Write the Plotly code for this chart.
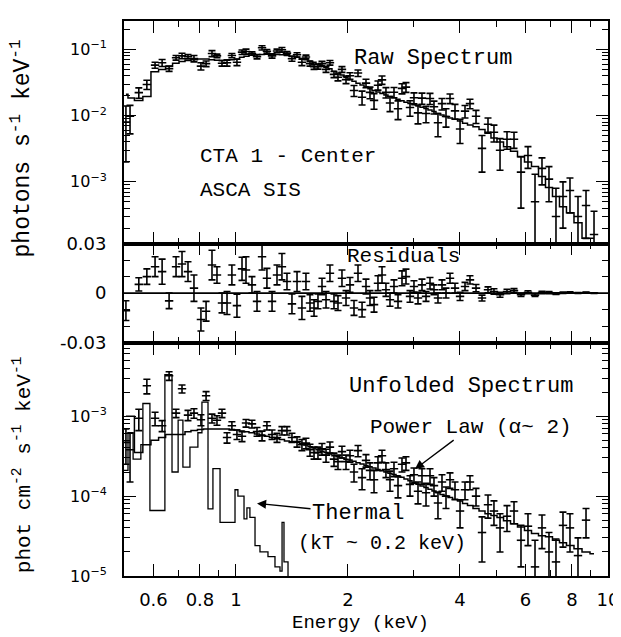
import plotly.graph_objects as go
from plotly.subplots import make_subplots

# ---------------- data ----------------
energy = [0.506, 0.519, 0.548, 0.576, 0.606, 0.633, 0.661, 0.690, 0.716, 0.743,
          0.771, 0.805, 0.831, 0.862, 0.889, 0.917, 0.946, 0.975, 1.006, 1.038,
          1.064, 1.104, 1.139, 1.175, 1.211, 1.250, 1.289, 1.329, 1.371, 1.414,
          1.459, 1.504, 1.542, 1.581, 1.621, 1.661, 1.703, 1.746, 1.789, 1.834,
          1.880, 1.927, 1.976, 2.025, 2.076, 2.128, 2.182, 2.236, 2.292, 2.350,
          2.408, 2.469, 2.530, 2.594, 2.659, 2.726, 2.794, 2.864, 2.936, 3.009,
          3.085, 3.162, 3.242, 3.323, 3.406, 3.491, 3.579, 3.669, 3.761, 3.879,
          4.002, 4.127, 4.256, 4.418, 4.585, 4.758, 4.937, 5.126, 5.352, 5.589,
          5.836, 6.094, 6.365, 6.646, 6.940, 7.247, 7.568, 7.903, 8.305, 8.728,
          9.171]

raw_rate = [0.0080, 0.0098, 0.0223, 0.0295, 0.0580, 0.0630, 0.0513, 0.0750, 0.0800, 0.0780,
            0.0730, 0.0560, 0.0610, 0.0870, 0.0800, 0.0620, 0.0630, 0.0810, 0.0640, 0.0910,
            0.0930, 0.0870, 0.0780, 0.1060, 0.0940, 0.0800, 0.0950, 0.0990, 0.0880, 0.0725,
            0.0830, 0.0640, 0.0770, 0.0610, 0.0550, 0.0550, 0.0610, 0.0500, 0.0630, 0.0420,
            0.0380, 0.0500, 0.0350, 0.0400, 0.0240, 0.0440, 0.0190, 0.0310, 0.0225, 0.0170,
            0.0288, 0.0347, 0.0225, 0.0155, 0.0226, 0.0127, 0.0258, 0.0270, 0.0133, 0.0186,
            0.0110, 0.0184, 0.0108, 0.0182, 0.0136, 0.0078, 0.0152, 0.0097, 0.0182, 0.0118,
            0.0063, 0.0117, 0.0152, 0.0098, 0.0032, 0.0074, 0.0056, 0.0030, 0.0044, 0.0044,
            0.0014, 0.0025, 0.0005, 0.0016, 0.0011, 0.0003, 0.0006, 0.00074, 0.0003, 0.00044,
            0.00016]

rate_err = [0.0060, 0.0045, 0.0040, 0.0047, 0.0060, 0.0076, 0.0047, 0.0060, 0.0076, 0.0060,
            0.0080, 0.0070, 0.0060, 0.0090, 0.0050, 0.0060, 0.0070, 0.0060, 0.0070, 0.0070,
            0.0080, 0.0050, 0.0060, 0.0080, 0.0060, 0.0060, 0.0060, 0.0080, 0.0050, 0.0060,
            0.0060, 0.0070, 0.0050, 0.0050, 0.0050, 0.0045, 0.0050, 0.0050, 0.0050, 0.0045,
            0.0045, 0.0050, 0.0045, 0.0045, 0.0045, 0.0050, 0.0045, 0.0045, 0.0045, 0.0045,
            0.0045, 0.0050, 0.0040, 0.0040, 0.0040, 0.0040, 0.0045, 0.0045, 0.0035, 0.0035,
            0.0035, 0.0035, 0.0030, 0.0035, 0.0030, 0.0030, 0.0030, 0.0030, 0.0030, 0.0030,
            0.0025, 0.0025, 0.0025, 0.0022, 0.0018, 0.0018, 0.0016, 0.0015, 0.0013, 0.0012,
            0.0010, 0.0009, 0.0008, 0.0007, 0.0006, 0.0005, 0.0004, 0.0004, 0.0003, 0.0003,
            0.0002]

raw_model = [0.0210, 0.0185, 0.0170, 0.0195, 0.0460, 0.0500, 0.0560, 0.0620, 0.0660, 0.0680,
             0.0700, 0.0720, 0.0720, 0.0700, 0.0690, 0.0680, 0.0690, 0.0700, 0.0720, 0.0760,
             0.0790, 0.0820, 0.0830, 0.0840, 0.0850, 0.0850, 0.0840, 0.0830, 0.0810, 0.0790,
             0.0760, 0.0730, 0.0700, 0.0670, 0.0640, 0.0600, 0.0570, 0.0540, 0.0510, 0.0470,
             0.0440, 0.0410, 0.0380, 0.0350, 0.0330, 0.0310, 0.0290, 0.0270, 0.0255, 0.0240,
             0.0228, 0.0217, 0.0205, 0.0195, 0.0186, 0.0177, 0.0168, 0.0160, 0.0153, 0.0146,
             0.0140, 0.0134, 0.0128, 0.0122, 0.0116, 0.0108, 0.0102, 0.0097, 0.0092, 0.0088,
             0.0083, 0.0077, 0.0072, 0.0068, 0.0062, 0.0054, 0.0046, 0.0040, 0.0034, 0.0029,
             0.0024, 0.0020, 0.0017, 0.0012, 0.00082, 0.00060, 0.00042, 0.00034, 0.00024, 0.00014,
             0.00014]

residual = [-0.0106, None, 0.0053, 0.010, 0.016, 0.013, -0.0047, 0.016, 0.0176, 0.013,
            0.003, -0.016, -0.011, 0.017, 0.011, -0.006, -0.006, 0.011, -0.0076, 0.0147,
            0.014, 0.005, -0.005, 0.022, 0.009, -0.005, 0.011, 0.016, 0.007, -0.0065,
            0.007, -0.009, 0.007, -0.006, -0.009, -0.005, 0.004, -0.004, 0.012, -0.005,
            -0.006, 0.009, -0.003, 0.005, -0.009, 0.012, -0.010, 0.004, -0.003, -0.007,
            0.006, 0.011, 0.002, -0.004, 0.004, -0.005, 0.009, 0.010, -0.002, 0.004,
            -0.003, 0.005, -0.002, 0.006, 0.002, -0.003, 0.005, 0.0, 0.009, 0.003,
            -0.002, 0.004, 0.008, 0.003, -0.003, 0.002, 0.001, -0.001, 0.001, 0.0015,
            -0.001, 0.0005, -0.0012, 0.0004, 0.0003, -0.0003, 0.0002, 0.0004, 0.0001, 0.0003,
            0.00002]

unf_flux = [4.7e-4, 3.8e-4, 9.4e-4, 2.4e-3, 9.4e-4, 7.6e-4, 3.2e-3, 1.09e-3, 2.2e-3, 1.03e-3,
            1.09e-3, 9.0e-4, 1.8e-3, 9.4e-4, 8.9e-4, 1.09e-3, 5.4e-4, 7.6e-4, 5.9e-4, 5.6e-4,
            8.2e-4, 8.0e-4, 6.4e-4, 5.7e-4, 7.6e-4, 5.9e-4, 5.4e-4, 6.6e-4, 6.6e-4, 5.4e-4,
            4.8e-4, 4.4e-4, 4.6e-4, 3.8e-4, 3.5e-4, 3.5e-4, 3.9e-4, 3.25e-4, 4.1e-4, 2.9e-4,
            2.7e-4, 3.6e-4, 2.7e-4, 3.2e-4, 2.0e-4, 3.7e-4, 1.7e-4, 2.8e-4, 2.1e-4, 1.6e-4,
            2.6e-4, 3.2e-4, 2.15e-4, 1.6e-4, 2.2e-4, 1.35e-4, 2.5e-4, 2.6e-4, 1.4e-4, 1.85e-4,
            1.15e-4, 1.8e-4, 1.1e-4, 1.8e-4, 1.35e-4, 8.2e-5, 1.5e-4, 1.0e-4, 1.6e-4, 1.2e-4,
            6.5e-5, 1.2e-4, 1.5e-4, 1.0e-4, 3.5e-5, 7.8e-5, 6.5e-5, 4.0e-5, 5.6e-5, 6.5e-5,
            2.8e-5, 4.2e-5, 1.3e-5, 4.0e-5, 2.0e-5, 1.5e-5, 4.3e-5, 4.0e-5, 1.8e-5, 5.0e-5,
            None]

unf_err = [2.2e-4, 2.3e-4, 2.8e-4, 5e-4, 1.8e-4, 1.2e-4, 4e-4, 1.3e-4, 2.5e-4, 1.5e-4,
           1.5e-4, 1.4e-4, 2.3e-4, 1.2e-4, 1.2e-4, 1.3e-4, 8e-5, 9e-5, 8e-5, 8e-5,
           9e-5, 9e-5, 8e-5, 8e-5, 9e-5, 8e-5, 7e-5, 8e-5, 8e-5, 7e-5,
           7e-5, 7e-5, 7e-5, 6.5e-5, 6e-5, 6e-5, 6.5e-5, 6e-5, 6.5e-5, 5.5e-5,
           5.5e-5, 6e-5, 5.5e-5, 5.5e-5, 5e-5, 6e-5, 5e-5, 5e-5, 5e-5, 5e-5,
           5e-5, 5.5e-5, 4.5e-5, 4.5e-5, 4.5e-5, 4e-5, 5e-5, 5e-5, 4e-5, 4e-5,
           3.5e-5, 4e-5, 3.5e-5, 4e-5, 3.5e-5, 3e-5, 3.5e-5, 3e-5, 3.5e-5, 3e-5,
           2.5e-5, 3e-5, 3e-5, 2.5e-5, 2e-5, 2.5e-5, 2.2e-5, 2e-5, 2e-5, 2e-5,
           1.5e-5, 1.8e-5, 1.5e-5, 1.8e-5, 1.5e-5, 1.4e-5, 2e-5, 2e-5, 1.2e-5, 2e-5,
           None]

powerlaw_model = [1.0e-3, 1.0e-3, 3.5e-4, 4.4e-4, 5.0e-4, 5.4e-4, 5.9e-4, 5.9e-4, 5.9e-4, 6.4e-4,
                  6.6e-4, 6.8e-4, 6.9e-4, 6.9e-4, 6.9e-4, 6.9e-4, 6.9e-4, 6.8e-4, 6.7e-4, 6.5e-4,
                  6.4e-4, 6.2e-4, 6.0e-4, 5.8e-4, 5.6e-4, 5.4e-4, 5.2e-4, 5.1e-4, 4.9e-4, 4.8e-4,
                  4.7e-4, 4.55e-4, 4.35e-4, 4.15e-4, 4.0e-4, 3.8e-4, 3.65e-4, 3.5e-4, 3.35e-4, 3.2e-4,
                  3.1e-4, 3.0e-4, 2.9e-4, 2.83e-4, 2.72e-4, 2.62e-4, 2.52e-4, 2.42e-4, 2.33e-4, 2.24e-4,
                  2.15e-4, 2.07e-4, 2.0e-4, 1.93e-4, 1.86e-4, 1.79e-4, 1.72e-4, 1.63e-4, 1.56e-4, 1.48e-4,
                  1.41e-4, 1.34e-4, 1.28e-4, 1.22e-4, 1.16e-4, 1.10e-4, 1.05e-4, 1.0e-4, 9.6e-5, 9.1e-5,
                  8.7e-5, 8.1e-5, 7.6e-5, 7.0e-5, 6.5e-5, 6.0e-5, 5.7e-5, 5.4e-5, 4.9e-5, 4.5e-5,
                  4.1e-5, 3.7e-5, 3.4e-5, 3.2e-5, 3.1e-5, 2.8e-5, 2.6e-5, 2.4e-5, 2.2e-5, 2.0e-5,
                  1.9e-5]

thermal_energy = [0.500, 0.5125, 0.529, 0.555, 0.562, 0.587, 0.644, 0.673, 0.699, 0.720,
                  0.752, 0.790, 0.810, 0.841, 0.867, 0.906, 0.994, 1.012, 1.051, 1.070,
                  1.090, 1.125, 1.160, 1.219, 1.273, 1.313, 1.330, 1.346, 1.380]
thermal_flux = [2.1e-4, 6.2e-4, 2.9e-4, 4.4e-4, 1.44e-3, 6.6e-5, 3.3e-3, 2.0e-4, 8.9e-4, 2.3e-4,
                4.1e-4, 6.2e-4, 1.5e-3, 6.9e-5, 2.2e-4, 4.7e-5, 1.2e-4, 1.0e-4, 5.2e-5, 7.1e-5,
                5.4e-5, 2.4e-5, 2.0e-5, 1.75e-5, 1.3e-5, 1.15e-5, 4.7e-5, 1.5e-5, 5e-6]

x_tick_vals = [0.6, 0.8, 1, 2, 4, 6, 8, 10]
x_tick_text = ["0.6", "0.8", "1", "2", "4", "6", "8", "10"]
x_minor_vals = [0.7, 0.9, 3, 5, 7, 9]

top_tick_vals = [1e-3, 1e-2, 1e-1]
top_tick_text = ["10<sup>\u22123</sup>", "10<sup>\u22122</sup>", "10<sup>\u22121</sup>"]
bot_tick_vals = [1e-5, 1e-4, 1e-3]
bot_tick_text = ["10<sup>\u22125</sup>", "10<sup>\u22124</sup>", "10<sup>\u22123</sup>"]
mid_tick_vals = [-0.03, 0, 0.03]
mid_tick_text = ["-0.03", "0", "0.03"]
mid_minor_vals = [-0.02, -0.01, 0.01, 0.02]

log_minor_top = [m * d for d in (1e-4, 1e-3, 1e-2, 1e-1) for m in range(2, 10)]
log_minor_bot = [m * d for d in (1e-5, 1e-4, 1e-3) for m in range(2, 10)]

# ---------------- figure ----------------
# the page body has an 8 px margin, so the figure is 8 px smaller and shifted
OFF = 8
W, H = 621 - OFF, 637 - OFF
L, R, T, B = 124 - OFF, 13, 10 - OFF, 61
fig = make_subplots(rows=3, cols=1, shared_xaxes=True, vertical_spacing=0,
                    row_heights=[227, 101, 238])

BLACK = "black"
err_style = dict(type="data", color=BLACK, thickness=1.6, width=3.5)
mk = dict(symbol="line-ew", size=6, line=dict(color=BLACK, width=1.6), color=BLACK)

# top: raw spectrum
fig.add_trace(go.Scatter(x=energy, y=raw_model, mode="lines", line_shape="hvh",
                         line=dict(color=BLACK, width=1.5), hoverinfo="skip"), row=1, col=1)
fig.add_trace(go.Scatter(x=energy, y=raw_rate, mode="markers", marker=mk,
                         error_y=dict(array=rate_err, **err_style)), row=1, col=1)

# middle: residuals
fig.add_trace(go.Scatter(x=[0.5, 10], y=[0, 0], mode="lines",
                         line=dict(color=BLACK, width=1.7)), row=2, col=1)
fig.add_trace(go.Scatter(x=energy, y=residual, mode="markers", marker=mk,
                         error_y=dict(array=rate_err, **err_style)), row=2, col=1)

# bottom: unfolded spectrum
fig.add_trace(go.Scatter(x=thermal_energy, y=thermal_flux, mode="lines", line_shape="hv",
                         line=dict(color=BLACK, width=1.3)), row=3, col=1)
fig.add_trace(go.Scatter(x=energy, y=powerlaw_model, mode="lines", line_shape="hvh",
                         line=dict(color=BLACK, width=1.5)), row=3, col=1)
fig.add_trace(go.Scatter(x=energy, y=unf_flux, mode="markers", marker=mk,
                         error_y=dict(array=unf_err, **err_style)), row=3, col=1)

tickfont = dict(family="DejaVu Sans", size=18, color=BLACK)
axis_common = dict(showline=True, linecolor=BLACK, linewidth=1.8, mirror="ticks",
                   ticks="inside", ticklen=12, tickwidth=1.4, tickcolor=BLACK,
                   showgrid=False, zeroline=False)

for r in (1, 2, 3):
    fig.update_xaxes(type="log", range=[-0.30103, 1.0], tickvals=x_tick_vals,
                     ticktext=x_tick_text, showticklabels=(r == 3), tickfont=tickfont,
                     ticklabelstandoff=6,
                     minor=dict(tickvals=x_minor_vals, ticks="inside", ticklen=6,
                                tickwidth=1.2, tickcolor=BLACK, showgrid=False),
                     row=r, col=1, **axis_common)

fig.update_yaxes(type="log", range=[-3.933, -0.570], tickvals=top_tick_vals,
                 ticktext=top_tick_text, tickfont=dict(family="DejaVu Sans", size=16, color=BLACK),
                 ticklabelstandoff=12,
                 minor=dict(tickvals=log_minor_top, ticks="inside", ticklen=6, tickwidth=1.1,
                            tickcolor=BLACK, showgrid=False),
                 row=1, col=1, **axis_common)
fig.update_yaxes(type="linear", range=[-0.03, 0.03], tickvals=mid_tick_vals,
                 ticktext=mid_tick_text, tickfont=tickfont, ticklabelstandoff=12,
                 minor=dict(tickvals=mid_minor_vals, ticks="inside", ticklen=6, tickwidth=1.1,
                            tickcolor=BLACK, showgrid=False),
                 row=2, col=1, **axis_common)
fig.update_yaxes(type="log", range=[-5.0, -2.08], tickvals=bot_tick_vals,
                 ticktext=bot_tick_text, tickfont=dict(family="DejaVu Sans", size=16, color=BLACK),
                 ticklabelstandoff=12,
                 minor=dict(tickvals=log_minor_bot, ticks="inside", ticklen=6, tickwidth=1.1,
                            tickcolor=BLACK, showgrid=False),
                 row=3, col=1, **axis_common)

PW, PH = W - L - R, H - T - B


# positions below are given in screen pixels of the final picture
def px(x):
    return (x - OFF - L) / PW


def py(y):
    return (H - B - (y - OFF)) / PH


ann = []


def label(text, x, y, xanchor="center", size=22, angle=0):
    ann.append(dict(text=text, x=px(x), y=py(y), xref="paper", yref="paper",
                    xanchor=xanchor, yanchor="middle", showarrow=False, textangle=angle,
                    font=dict(family="Liberation Mono", size=size, color=BLACK)))


def arrow_label(text, hx, hy, tx, ty, size=21):
    ann.append(dict(text=text, x=px(hx), y=py(hy), xref="paper", yref="paper",
                    ax=tx - hx, ay=ty - hy, axref="pixel", ayref="pixel",
                    showarrow=True, arrowhead=2, arrowsize=1.4, arrowwidth=1.3,
                    arrowcolor=BLACK, standoff=0,
                    font=dict(family="Liberation Mono", size=size, color=BLACK)))


label("Raw Spectrum", 433, 48)
label("CTA 1 - Center", 198, 148, "left", 21)
label("ASCA SIS", 198, 183, "left", 21)
label("Residuals", 403, 250, size=21)
label("Unfolded Spectrum", 461, 383)
arrow_label("Power Law (\u03b1~ 2)", 415, 467, 471, 425, size=21)
arrow_label("Thermal", 257, 502, 358, 512, size=22)
label("(kT ~ 0.2 keV)", 296, 543, "left", 20)
label("Energy (keV)", 360, 624, size=19)
label("photons s<sup>-1</sup> keV<sup>-1</sup>", 22, 140, size=23, angle=-90)
label("phot cm<sup>-2</sup> s<sup>-1</sup> keV<sup>-1</sup>", 22, 463, size=21, angle=-90)

fig.update_layout(width=W, height=H, margin=dict(l=L, r=R, t=T, b=B),
                  paper_bgcolor="white", plot_bgcolor="white", showlegend=False,
                  annotations=ann)

fig.write_html("out.html")
